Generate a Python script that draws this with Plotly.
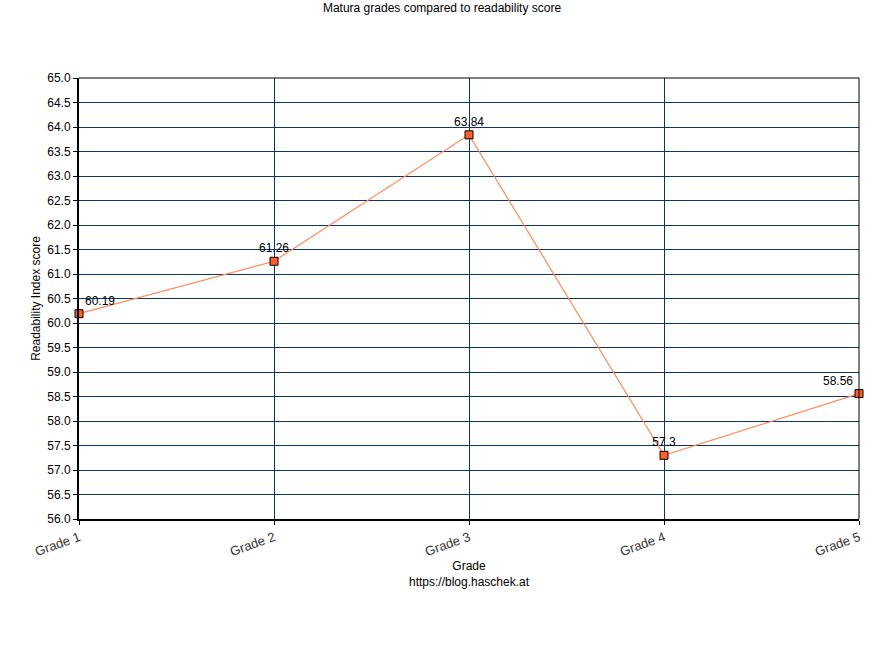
import plotly.graph_objects as go

grades = ["Grade 1", "Grade 2", "Grade 3", "Grade 4", "Grade 5"]
scores = [60.19, 61.26, 63.84, 57.3, 58.56]
labels = ["60.19", "61.26", "63.84", "57.3", "58.56"]
positions = ["top right", "top center", "top center", "top center", "top left"]

xs = list(range(len(grades)))

fig = go.Figure()
fig.add_trace(go.Scatter(
    x=xs, y=scores, mode="lines+markers+text",
    text=labels, textposition=positions,
    textfont=dict(family="Liberation Sans, Arial, sans-serif", size=12, color="#000000"),
    line=dict(color="#ff8a5c", width=1.2),
    marker=dict(symbol="square", size=8, color="#ff5f2b", line=dict(color="#000000", width=1)),
    cliponaxis=False, showlegend=False,
))

fig.update_layout(
    width=884, height=650,
    margin=dict(l=79, r=25, t=78, b=131),
    paper_bgcolor="white", plot_bgcolor="white",
    font=dict(family="Liberation Sans, Arial, sans-serif", size=12, color="#000000"),
    title=dict(text="Matura grades compared to readability score", x=0.5, xanchor="center",
               y=0.995, yanchor="top", font=dict(size=12)),
    xaxis=dict(
        range=[0, 4], tickvals=xs, ticktext=grades, tickangle=-20,
        showgrid=True, gridcolor="#0d3566", gridwidth=1,
        showline=True, linecolor="#000000", linewidth=2,
        ticks="outside", ticklen=4, tickcolor="#000000",
        tickfont=dict(color="#333333", size=13),
        zeroline=False,
        title=dict(text="Grade<br>https://blog.haschek.at", standoff=2, font=dict(size=12)),
    ),
    yaxis=dict(
        range=[56, 65], dtick=0.5, tick0=56, tickformat=".1f",
        showgrid=True, gridcolor="#0d3566", gridwidth=1,
        showline=True, linecolor="#000000", linewidth=2,
        ticks="outside", ticklen=4, tickcolor="#000000",
        zeroline=False,
        title=dict(text="Readability Index score", standoff=4, font=dict(size=12)),
    ),
    shapes=[
        dict(type="line", xref="paper", yref="paper", x0=0, x1=1, y0=1, y1=1,
             line=dict(color="#000000", width=1)),
        dict(type="line", xref="paper", yref="paper", x0=1, x1=1, y0=0, y1=1,
             line=dict(color="#000000", width=1)),
    ],
)

fig.write_html("out.html", config={"displayModeBar": False},
               post_script="document.body.style.margin='0px';")
